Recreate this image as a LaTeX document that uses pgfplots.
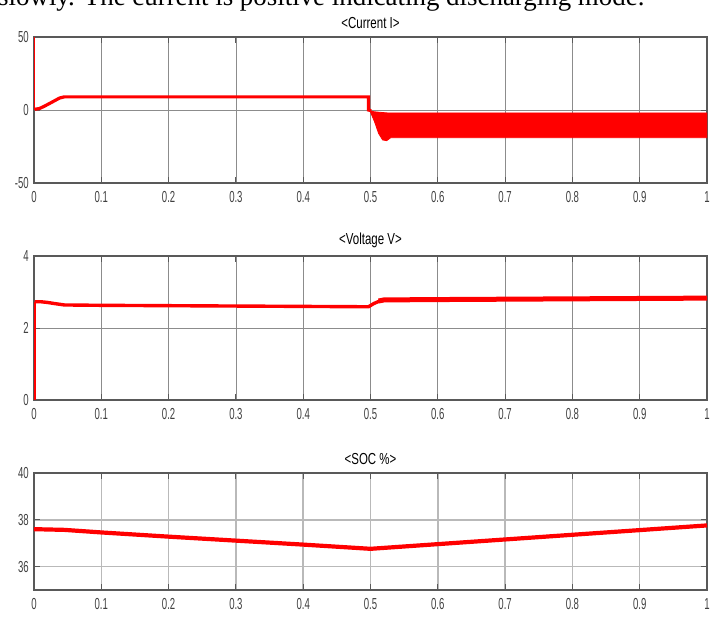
\documentclass[border=0pt]{standalone}
\usepackage{pgfplots}
\pgfplotsset{compat=1.18}
\usepackage{fontspec}
\setmainfont{Liberation Serif}
\newfontfamily\nsans[FakeStretch=0.6]{Liberation Sans}
\newfontfamily\tsans[FakeStretch=0.72]{Liberation Sans}
\definecolor{axgray}{gray}{0.35}
\definecolor{grgray}{gray}{0.55}
\pgfplotsset{
  mat/.style={
    scale only axis, width=673bp,
    xmin=0, xmax=1,
    xtick={0,0.1,...,1},
    xticklabels={0,0.1,0.2,0.3,0.4,0.5,0.6,0.7,0.8,0.9,1},
    axis line style={axgray, line width=1.3bp},
    tick align=inside, major tick length=6bp,
    tick style={axgray, line width=1bp},
    grid=major, major grid style={grgray, line width=0.8bp},
    ticklabel style={font=\nsans\fontsize{16}{16}\selectfont, text=black!75, inner sep=2bp},
    /pgf/number format/assume math mode=true,
    xticklabel style={yshift=-6.5bp},
    yticklabel style={xshift=-3bp},
    title style={font=\tsans\fontsize{16}{16}\selectfont, inner sep=0pt, yshift=2.5bp},
    anchor=north west,
  }
}
\begin{document}
\begin{tikzpicture}
\useasboundingbox (0,0) rectangle (721bp,-617bp);
\node[anchor=base west, inner sep=0, font=\fontsize{27}{27}\selectfont] at (-2bp,-5bp) {slowly. The current is positive indicating discharging mode.};
% Current
\begin{axis}[mat, at={(34bp,-37bp)}, height=146bp, ymin=-50, ymax=50, ytick={-50,0,50},
  title={<Current I>}]
\addplot[red, line width=1.5bp] coordinates {(0.0005,50) (0.0005,0)};
\addplot[red, line width=3.2bp] coordinates {
(0.001,0.5) (0.008,1) (0.015,2.5) (0.022,4.2) (0.03,6.2) (0.038,8.2) (0.045,9) (0.1,9) (0.2,9) (0.3,9) (0.4,9) (0.497,9) (0.497,0) (0.501,-0.5)};
\addplot[red, fill=red, line width=0.8bp] coordinates {
(0.5,-0.5) (0.505,-1.2) (0.515,-1.6) (0.525,-2.0) (1,-2.0)
(1,-19) (0.53,-19) (0.524,-21) (0.518,-20.5) (0.512,-16) (0.506,-8) (0.5,-1.5)} -- cycle;
\end{axis}
% Voltage
\begin{axis}[mat, at={(34bp,-256bp)}, height=144bp, ymin=0, ymax=4, ytick={0,2,4},
  title={<Voltage V>}]
\addplot[red, line width=2bp] coordinates {(0.0008,0) (0.0008,2.72)};
\addplot[red, line width=3.4bp] coordinates {
(0.001,2.73) (0.01,2.73) (0.02,2.71) (0.03,2.68) (0.045,2.64) (0.1,2.63) (0.2,2.62) (0.3,2.61) (0.4,2.6) (0.497,2.59) (0.505,2.68) (0.515,2.76)};
\addplot[red, line width=5bp] coordinates {
(0.512,2.75) (0.52,2.78) (0.6,2.79) (0.7,2.8) (0.8,2.81) (0.9,2.82) (1,2.83)};
\end{axis}
% SOC
\begin{axis}[mat, at={(34bp,-473bp)}, height=117bp, ymin=35, ymax=40, ytick={36,38,40},
  title={<SOC \%>}, major grid style={gray!55, line width=1.5bp}]
\addplot[red, line width=4.2bp] coordinates {
(0,37.6) (0.045,37.57) (0.1,37.46) (0.2,37.28) (0.3,37.11) (0.4,36.94) (0.5,36.76) (0.6,36.96) (0.7,37.16) (0.8,37.36) (0.9,37.56) (1,37.76)};
\end{axis}
\end{tikzpicture}
\end{document}
